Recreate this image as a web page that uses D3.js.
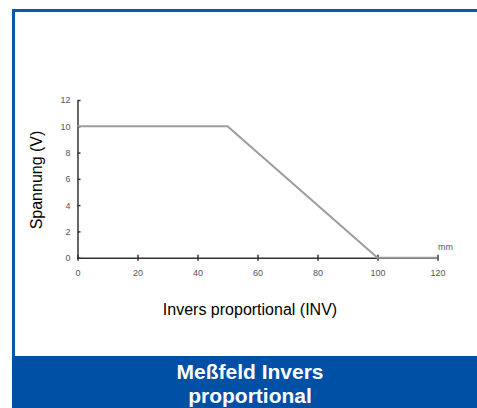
<!DOCTYPE html>
<meta charset="utf-8">
<script src="https://d3js.org/d3.v7.min.js"></script>
<style>
body { margin: 0; background: white; }
svg { display: block; font-family: "Liberation Sans", Arial, sans-serif; }
.axis path, .axis line { stroke: #333; stroke-width: 1.5px; }
.axis text { fill: #555; font-size: 9px; }
</style>
<body>
<svg id="svg" width="477" height="408"></svg>
<script>
// curve data: distance (mm) vs voltage (V)
var distance = [0, 50, 100, 120];
var voltage = [10, 10, 0, 0];
var xTicks = [0, 20, 40, 60, 80, 100, 120];
var yTicks = [0, 2, 4, 6, 8, 10, 12];

var svg = d3.select("#svg");

// frame
svg.append("rect")
    .attr("x", 13.5).attr("y", 10.5)
    .attr("width", 480).attr("height", 360)
    .attr("fill", "white")
    .attr("stroke", "#0b58b0")
    .attr("stroke-width", 3);

svg.append("rect")
    .attr("x", 12).attr("y", 356)
    .attr("width", 470).attr("height", 60)
    .attr("fill", "#0050a6");

svg.append("text")
    .attr("x", 250).attr("y", 379)
    .attr("text-anchor", "middle")
    .attr("fill", "white")
    .style("font-size", "21px").style("font-weight", "bold")
    .text("Meßfeld Invers");
svg.append("text")
    .attr("x", 250).attr("y", 403)
    .attr("text-anchor", "middle")
    .attr("fill", "white")
    .style("font-size", "21px").style("font-weight", "bold")
    .text("proportional");

var x = d3.scaleLinear().domain([0, 120]).range([77.5, 437.5]);
var y = d3.scaleLinear().domain([0, 12]).range([257.7, 100]);

svg.append("g")
    .attr("class", "axis")
    .attr("transform", "translate(0," + y(0) + ")")
    .call(d3.axisBottom(x).tickValues(xTicks).tickSizeInner(3).tickSizeOuter(0).tickPadding(9))
    .call(g => g.selectAll(".tick line").attr("y1", -3));

svg.append("g")
    .attr("class", "axis")
    .attr("transform", "translate(" + x(0) + ",0)")
    .call(d3.axisLeft(y).tickValues(yTicks).tickSizeInner(3).tickSizeOuter(0).tickPadding(4))
    .call(g => g.selectAll(".tick line").attr("x2", 3));

svg.selectAll(".axis .domain").attr("stroke", "#333");

var line = d3.line()
    .x(function(d, i) { return x(distance[i]); })
    .y(function(d) { return y(d); });

svg.append("path")
    .datum(voltage)
    .attr("fill", "none")
    .attr("stroke", "#9c9c9c")
    .attr("stroke-width", 2)
    .attr("d", line);

svg.append("text")
    .attr("x", x(120) + 8).attr("y", y(0) - 8)
    .attr("text-anchor", "middle")
    .attr("fill", "#555")
    .style("font-size", "9px")
    .text("mm");

svg.append("text")
    .attr("transform", "translate(42,180) rotate(-90)")
    .attr("text-anchor", "middle")
    .style("font-size", "16px")
    .text("Spannung (V)");

svg.append("text")
    .attr("x", 250).attr("y", 315)
    .attr("text-anchor", "middle")
    .style("font-size", "16px")
    .text("Invers proportional (INV)");
</script>
</body>
